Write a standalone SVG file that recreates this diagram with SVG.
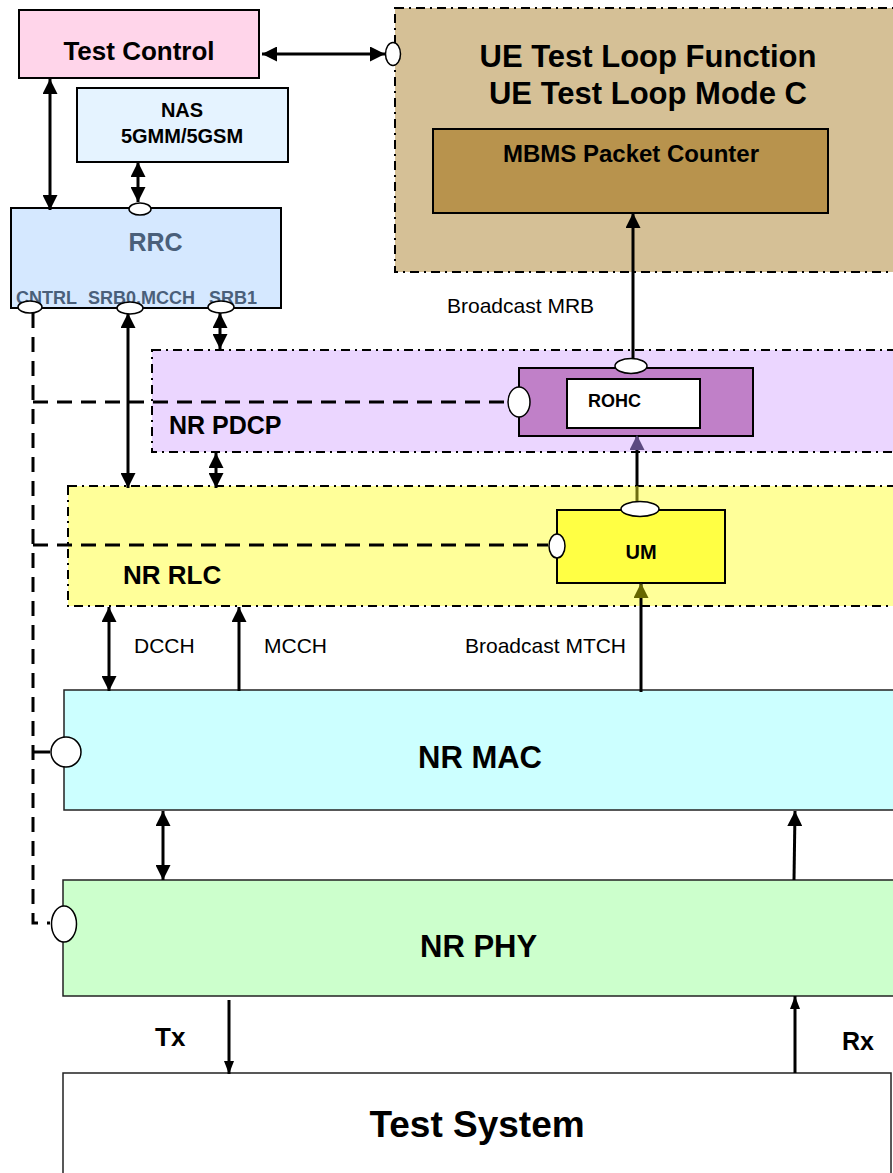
<svg xmlns="http://www.w3.org/2000/svg" width="893" height="1173" viewBox="0 0 893 1173">
<defs>
<style>
text{font-family:"Liberation Sans",Arial,sans-serif;fill:#000}
.b{font-weight:bold}
.box{stroke:#000;stroke-width:2}
.thin{stroke:#222;stroke-width:1.5}
.dd{stroke:#000;stroke-width:2;stroke-dasharray:9 5 2 5}
.ln{stroke:#000;stroke-width:3;fill:none}
.dash{stroke:#000;stroke-width:3;fill:none;stroke-dasharray:15 9}
.port{fill:#fff;stroke:#000;stroke-width:1.5}
.lbl{fill:#4A5F7A}
</style>
<marker id="ah" viewBox="0 0 10 10" refX="10" refY="5" markerWidth="15" markerHeight="15" markerUnits="userSpaceOnUse" orient="auto-start-reverse"><path d="M0,0L10,5L0,10z" fill="#000"/></marker>
<marker id="ahs" viewBox="0 0 10 10" refX="10" refY="5" markerWidth="13" markerHeight="10" markerUnits="userSpaceOnUse" orient="auto-start-reverse" preserveAspectRatio="none"><path d="M0,0L10,5L0,10z" fill="#000"/></marker>
<marker id="ahp" viewBox="0 0 10 10" refX="10" refY="5" markerWidth="15" markerHeight="15" markerUnits="userSpaceOnUse" orient="auto"><path d="M0,0L10,5L0,10z" fill="#5C4A80"/></marker>
<marker id="aho" viewBox="0 0 10 10" refX="10" refY="5" markerWidth="15" markerHeight="15" markerUnits="userSpaceOnUse" orient="auto"><path d="M0,0L10,5L0,10z" fill="#666600"/></marker>
</defs>

<g id="ue-test-loop">
<rect x="395" y="8" width="510" height="264" fill="#D5C096" class="dd"/>
<text class="b" x="648" y="67" font-size="31" text-anchor="middle">UE Test Loop Function</text>
<text class="b" x="648" y="104" font-size="31" text-anchor="middle">UE Test Loop Mode C</text>
</g>
<g id="mbms-counter">
<rect x="433" y="129" width="395" height="84" fill="#B8934D" class="box"/>
<text class="b" x="631" y="162" font-size="24" text-anchor="middle">MBMS Packet Counter</text>
</g>

<g id="test-control">
<rect x="19" y="10" width="240" height="68" fill="#FFD5EA" class="box"/>
<text class="b" x="139" y="60" font-size="26" text-anchor="middle">Test Control</text>
</g>

<g id="nas">
<rect x="77" y="88" width="211" height="74" fill="#E5F3FF" class="box"/>
<text class="b" x="182" y="117" font-size="20" text-anchor="middle">NAS</text>
<text class="b" x="182" y="143" font-size="20" text-anchor="middle">5GMM/5GSM</text>
</g>

<g id="rrc">
<rect x="11" y="208" width="270" height="100" fill="#D5E8FF" class="box"/>
<text class="b lbl" x="155.5" y="251" font-size="25" text-anchor="middle">RRC</text>
<text class="b lbl" x="16" y="304" font-size="18">CNTRL</text>
<text class="b lbl" x="88" y="304" font-size="18">SRB0,MCCH</text>
<text class="b lbl" x="209" y="304" font-size="18">SRB1</text>
</g>

<g id="nr-pdcp">
<rect x="152" y="350" width="760" height="102" fill="#EBD6FF" class="dd"/>
<text class="b" x="169" y="434" font-size="25">NR PDCP</text>
</g>
<g id="rohc">
<rect x="519" y="368" width="234" height="68" fill="#C080C8" class="box"/>
<rect x="567" y="379" width="133" height="49" fill="#fff" class="box"/>
<text class="b" x="588" y="407" font-size="18">ROHC</text>
</g>

<g id="nr-rlc">
<rect x="68" y="486" width="840" height="120" fill="#FFFF99" class="dd"/>
<text class="b" x="123" y="584" font-size="26">NR RLC</text>
</g>
<g id="um">
<rect x="557" y="510" width="168" height="73" fill="#FFFF44" class="box"/>
<text class="b" x="641" y="559" font-size="20" text-anchor="middle">UM</text>
</g>

<g id="nr-mac">
<rect x="64" y="690" width="850" height="120" fill="#CCFFFF" class="thin"/>
<text class="b" x="418" y="768" font-size="31">NR MAC</text>
</g>

<g id="nr-phy">
<rect x="63" y="880" width="850" height="116" fill="#CCFFCC" class="thin"/>
<text class="b" x="420" y="957" font-size="31">NR PHY</text>
</g>

<g id="test-system">
<rect x="63" y="1073" width="828" height="120" fill="#fff" class="thin"/>
<text class="b" x="477" y="1137" font-size="37" text-anchor="middle">Test System</text>
</g>

<g id="connectors">
<line x1="262" y1="54" x2="385" y2="54" class="ln" marker-start="url(#ah)" marker-end="url(#ah)"/>
<line x1="50" y1="79" x2="50" y2="210" class="ln" marker-start="url(#ah)" marker-end="url(#ah)"/>
<line x1="138" y1="162" x2="138" y2="202" class="ln" marker-start="url(#ah)" marker-end="url(#ah)"/>
<line x1="128" y1="313" x2="128" y2="488" class="ln" marker-start="url(#ah)" marker-end="url(#ah)"/>
<line x1="220" y1="313" x2="220" y2="349" class="ln" marker-start="url(#ah)" marker-end="url(#ah)"/>
<line x1="216" y1="453" x2="216" y2="488" class="ln" marker-start="url(#ah)" marker-end="url(#ah)"/>
<line x1="633" y1="358" x2="633" y2="213" class="ln" marker-end="url(#ah)"/>
<line x1="637" y1="486" x2="637" y2="435" class="ln" marker-end="url(#ahp)"/>
<line x1="637" y1="486" x2="637" y2="502" stroke="#6E6E10" stroke-width="3"/>
<line x1="641" y1="692" x2="641" y2="583" class="ln" marker-end="url(#aho)"/>
<line x1="109" y1="607" x2="109" y2="691" class="ln" marker-start="url(#ah)" marker-end="url(#ah)"/>
<line x1="239" y1="691" x2="239" y2="607" class="ln" marker-end="url(#ah)"/>
<line x1="163" y1="811" x2="163" y2="880" class="ln" marker-start="url(#ah)" marker-end="url(#ah)"/>
<line x1="794" y1="880" x2="795" y2="811" class="ln" marker-end="url(#ah)"/>
<line x1="229" y1="1000" x2="229" y2="1074" class="ln" marker-end="url(#ahs)"/>
<line x1="795" y1="1073" x2="795" y2="996" class="ln" marker-end="url(#ahs)"/>
<path d="M33,313V923H50" class="dash"/>
<path d="M33,402H508" class="dash"/>
<path d="M33,545H548" class="dash"/>
<path d="M33,752H50" class="ln"/>
<text x="447" y="313" font-size="21">Broadcast MRB</text>
<text x="134" y="653" font-size="21">DCCH</text>
<text x="264" y="653" font-size="21">MCCH</text>
<text x="465" y="653" font-size="21">Broadcast MTCH</text>
<text class="b" x="155" y="1046" font-size="26">Tx</text>
<text class="b" x="842" y="1050" font-size="25">Rx</text>
</g>

<g id="ports">
<ellipse cx="393" cy="54" rx="7.5" ry="11.5" class="port"/>
<ellipse cx="140" cy="209" rx="11" ry="6" class="port"/>
<ellipse cx="30" cy="307" rx="12" ry="6" class="port"/>
<ellipse cx="130" cy="308" rx="13" ry="6" class="port"/>
<ellipse cx="221" cy="307" rx="13" ry="6" class="port"/>
<ellipse cx="631" cy="366" rx="16" ry="7.5" class="port"/>
<ellipse cx="519" cy="402" rx="11" ry="15" class="port"/>
<ellipse cx="640" cy="509" rx="19" ry="7.5" class="port"/>
<ellipse cx="557" cy="546" rx="8" ry="12" class="port"/>
<circle cx="66" cy="752" r="15" class="port"/>
<ellipse cx="64" cy="924" rx="12.5" ry="18" class="port"/>
</g>
</svg>
